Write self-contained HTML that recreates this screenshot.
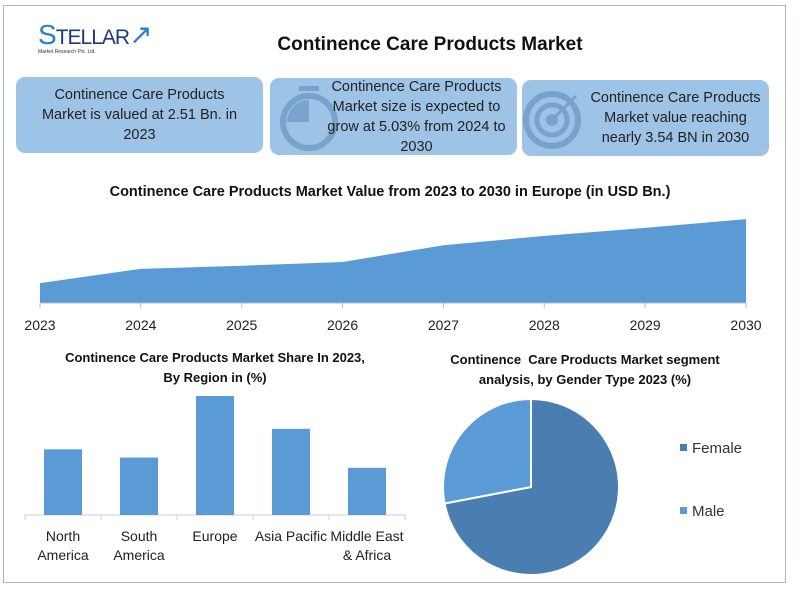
<!DOCTYPE html>
<html><head><meta charset="utf-8"><style>
body{margin:0;width:800px;height:590px;background:#fff;font-family:"Liberation Sans",sans-serif;overflow:hidden;position:relative}
.frame{position:absolute;left:3px;top:5px;width:783px;height:578px;border:1.5px solid #a9b8c8;box-sizing:border-box}
.box{position:absolute;background:#9dc3e6;border-radius:9px;color:#222;font-size:14.5px;line-height:20px;text-align:center;display:flex;align-items:center;justify-content:center}
.t{position:absolute;font-weight:bold;color:#111;text-align:center}
</style></head><body>
<div class="frame"></div>
<div style="position:absolute;left:38px;top:18px;width:110px;height:50px">
<div style="font-size:28px;color:#2a7fc9;font-family:'Liberation Sans Narrow','Liberation Sans',sans-serif;letter-spacing:-1px">S<span style="font-size:21px;color:#1f3a7a">TELLAR</span><span style="color:#2a7fc9">↗</span></div>
<div style="font-size:5px;color:#333;margin-top:-2px">Market Research Pvt. Ltd.</div>
</div>
<div class="t" style="left:200px;top:34px;width:460px;font-size:19px">Continence Care Products Market</div>
<div class="box" style="left:16px;top:77px;width:247px;height:76px">Continence Care Products<br>Market is valued at 2.51 Bn. in<br>2023</div>
<div class="box" style="left:270px;top:78px;width:247px;height:77px">
<svg width="70" height="70" style="position:absolute;left:6px;top:4px"><circle cx="33" cy="40" r="26" fill="none" stroke="#7aa3cb" stroke-width="6"/><path d="M33 40 V18 A22 22 0 0 0 11 40 Z" fill="#7aa3cb"/><rect x="23" y="4" width="20" height="5" fill="#7aa3cb"/></svg>
<span style="position:relative;margin-left:46px">Continence Care Products<br>Market size is expected to<br>grow at 5.03% from 2024 to<br>2030</span></div>
<div class="box" style="left:522px;top:80px;width:247px;height:76px">
<svg width="66" height="66" style="position:absolute;left:0px;top:6px"><circle cx="30" cy="34" r="26" fill="none" stroke="#7aa3cb" stroke-width="6"/><circle cx="30" cy="34" r="15" fill="none" stroke="#7aa3cb" stroke-width="5"/><circle cx="30" cy="34" r="6" fill="#7aa3cb"/><line x1="30" y1="34" x2="54" y2="10" stroke="#7aa3cb" stroke-width="3"/></svg>
<span style="position:relative;margin-left:60px">Continence Care Products<br>Market value reaching<br>nearly 3.54 BN in 2030</span></div>
<div class="t" style="left:40px;top:184px;width:700px;font-size:14.5px">Continence Care Products Market Value from 2023 to 2030 in Europe (in USD Bn.)</div>
<svg id="area" width="800" height="590" style="position:absolute;left:0;top:0"></svg>
<div class="t" style="left:30px;top:348px;width:370px;font-size:13px;line-height:20px">Continence Care Products Market Share In 2023,<br>By Region in (%)</div>
<div class="t" style="left:420px;top:350px;width:330px;font-size:13px;line-height:20px">Continence&nbsp; Care Products Market segment<br>analysis, by Gender Type 2023 (%)</div>
<script>
const years=["2023","2024","2025","2026","2027","2028","2029","2030"];
const values=[2.51,2.74,2.79,2.85,3.12,3.27,3.40,3.54];
const regions=[["North","America"],["South","America"],["Europe"],["Asia Pacific"],["Middle East","& Africa"]];
const shares=[16,14,29,21,11.5];
const genders=["Female","Male"];
const genderShares=[72,28];
const NS="http://www.w3.org/2000/svg";
const svg=document.getElementById('area');
function mk(t,a){const e=document.createElementNS(NS,t);for(const k in a)e.setAttribute(k,a[k]);svg.appendChild(e);return e;}
// area chart
const ax=i=>40+i*(706/(years.length-1));
const ay=v=>303-(v-2.19)*62.1;
let d="M"+ax(0)+",303";
values.forEach((v,i)=>{d+=" L"+ax(i)+","+ay(v);});
d+=" L"+ax(values.length-1)+",303 Z";
let a=mk('path',{d:d,fill:'#5b9bd5'});


mk('line',{x1:40,y1:303,x2:746,y2:303,stroke:'#bbb'});
years.forEach((y,i)=>{
 mk('line',{x1:ax(i),y1:303,x2:ax(i),y2:308,stroke:'#bbb'});
 let t=mk('text',{x:ax(i),y:330,'text-anchor':'middle','font-size':14,fill:'#222'});t.textContent=y;
 
 
});
// bar chart
const bx0=25,bw=76,by0=515,bk=119/29;
mk('line',{x1:bx0,y1:by0,x2:bx0+bw*5,y2:by0,stroke:'#ccc'});
shares.forEach((v,i)=>{
 const h=v*bk;
 let r=mk('rect',{x:bx0+i*bw+19,y:by0-h,width:38,height:h,fill:'#5b9bd5'});
 
 
 mk('line',{x1:bx0+i*bw,y1:by0,x2:bx0+i*bw,y2:by0+5,stroke:'#ccc'});
 regions[i].forEach((ln,j)=>{let t=mk('text',{x:bx0+i*bw+bw/2,y:541+j*19,'text-anchor':'middle','font-size':14,fill:'#222'});t.textContent=ln;
  
  });
});
mk('line',{x1:bx0+5*bw,y1:by0,x2:bx0+5*bw,y2:by0+5,stroke:'#ccc'});
// pie
const cx=531,cy=487,r=88;const cols=['#4a7eb0','#5b9bd5'];
const tot=genderShares.reduce((s,v)=>s+v,0);let ang=0;
genderShares.forEach((v,i)=>{
 const a0=ang,a1=ang+v/tot*2*Math.PI;ang=a1;
 const p=t=>[cx+r*Math.sin(t),cy-r*Math.cos(t)];
 const [x0,y0]=p(a0),[x1,y1]=p(a1);
 let s=mk('path',{d:`M${cx},${cy} L${x0},${y0} A${r},${r} 0 ${a1-a0>Math.PI?1:0} 1 ${x1},${y1} Z`,fill:cols[i],stroke:'#fff','stroke-width':2});
 
 
 mk('rect',{x:680,y:444+i*63,width:7,height:7,fill:cols[i]});
 let t=mk('text',{x:692,y:453+i*63,'font-size':15,fill:'#333'});t.textContent=genders[i];
 
 
});
</script>
</body></html>
